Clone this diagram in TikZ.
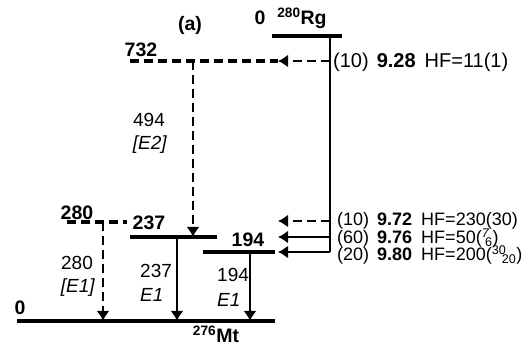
\documentclass[tikz,border=0pt]{standalone}
\usepackage{fontspec}
\setmainfont{Liberation Sans}
\usetikzlibrary{arrows.meta}

\newcommand{\supsub}[2]{\textsuperscript{#1}\kern-4.5pt\textsubscript{#2}}
\newcommand{\alphaline}[3]{(#1)\hspace{8pt}\textbf{#2}\hspace{9pt}HF=#3}

\begin{document}
\begin{tikzpicture}[
    x=1pt, y=-1pt,
    level/.style={line width=3.2pt},
    bus/.style={line width=2.6pt},
    trans/.style={line width=2.8pt, -{Latex[length=10pt,width=13pt]}},
    tentative/.style={dash pattern=on 9pt off 5pt},
    lbl/.style={font=\fontsize{19}{21}\selectfont, inner sep=0pt},
    en/.style={lbl, font=\fontsize{19.5}{21}\selectfont\bfseries},
    qval/.style={font=\fontsize{18}{20}\selectfont, inner sep=0pt, anchor=base west}
]
    \useasboundingbox (0,0) rectangle (525,347);

    % levels
    \coordinate (rgL)   at (272,36);  \coordinate (rgR)   at (342,36);
    \coordinate (l732L) at (130,61);  \coordinate (a732)  at (278,61);
    \coordinate (l280L) at (67,222);  \coordinate (l280R) at (127,222);
    \coordinate (l237L) at (130,237); \coordinate (l237R) at (217,237);
    \coordinate (l194L) at (203,252); \coordinate (l194R) at (275,252);
    \coordinate (gsL)   at (17,321);  \coordinate (gsR)   at (275,321);

    \draw[level] (rgL) -- (rgR);
    \draw[level, tentative] (l732L) -- (a732);
    \draw[level, tentative] (l280L) -- (l280R);
    \draw[level] (l237L) -- (l237R);
    \draw[level] (l194L) -- (l194R);
    \draw[level] (gsL) -- (gsR);

    % alpha feeding from the mother
    \coordinate (busTop) at (330,36);  \coordinate (busBot) at (330,252);
    \coordinate (b732) at (330,61);    \coordinate (b280) at (330,221);
    \coordinate (b237) at (330,237);
    \coordinate (a280) at (278,221);   \coordinate (a237) at (278,237);
    \coordinate (a194) at (278,252);

    \draw[bus] (busTop) -- (busBot);
    \draw[trans, tentative] (b732) -- (a732);
    \draw[trans, tentative] (b280) -- (a280);
    \draw[trans] (b237) -- (a237);
    \draw[trans] (busBot) -- (a194);

    % gamma rays
    \coordinate (g494a) at (193,61);  \coordinate (g494b) at (193,237);
    \coordinate (g280a) at (103,222); \coordinate (g280b) at (103,321);
    \coordinate (g237a) at (177,237); \coordinate (g237b) at (177,321);
    \coordinate (g194a) at (250,252); \coordinate (g194b) at (250,321);

    \draw[trans, tentative] (g494a) -- (g494b);
    \draw[trans, tentative] (g280a) -- (g280b);
    \draw[trans] (g237a) -- (g237b);
    \draw[trans] (g194a) -- (g194b);

    % energies and nuclei
    \node[en, anchor=base] (panel) at (190,31)  {(a)};
    \node[en, anchor=base] (e0rg)  at (260,25)  {0};
    \node[en, anchor=base] (rg)    at (302,25)  {\textsuperscript{280}Rg};
    \node[en, anchor=base] (e732)  at (141,57)  {732};
    \node[en, anchor=base] (e280)  at (77,220)  {280};
    \node[en, anchor=base] (e237)  at (149,230) {237};
    \node[en, anchor=base] (e194)  at (248,247) {194};
    \node[en, anchor=base] (e0)    at (20,315)  {0};
    \node[en, anchor=base] (mt)    at (216,343) {\textsuperscript{276}Mt};

    % gamma labels
    \node[lbl, anchor=base] (t494)  at (149,127) {494};
    \node[lbl, anchor=base] (m494)  at (150,150) {\textit{[E2]}};
    \node[lbl, anchor=base] (t280)  at (77,270)  {280};
    \node[lbl, anchor=base] (m280)  at (78,293)  {\textit{[E1]}};
    \node[lbl, anchor=base west] (t237) at (140,278) {237};
    \node[lbl, anchor=base west] (m237) at (140,302) {\textit{E1}};
    \node[lbl, anchor=base west] (t194) at (217,282) {194};
    \node[lbl, anchor=base west] (m194) at (217,307) {\textit{E1}};

    % alpha labels
    \node[qval, font=\fontsize{20}{22}\selectfont] (q928) at (333,68) {\alphaline{10}{9.28}{11(1)}};
    \node[qval] (q972) at (337,226) {\alphaline{10}{9.72}{230(30)}};
    \node[qval] (q976) at (337,244) {\alphaline{60}{9.76}{50(\supsub{\textit{7}}{6})}};
    \node[qval] (q980) at (337,261) {\alphaline{20}{9.80}{200(\supsub{30}{20})}};
\end{tikzpicture}
\end{document}
